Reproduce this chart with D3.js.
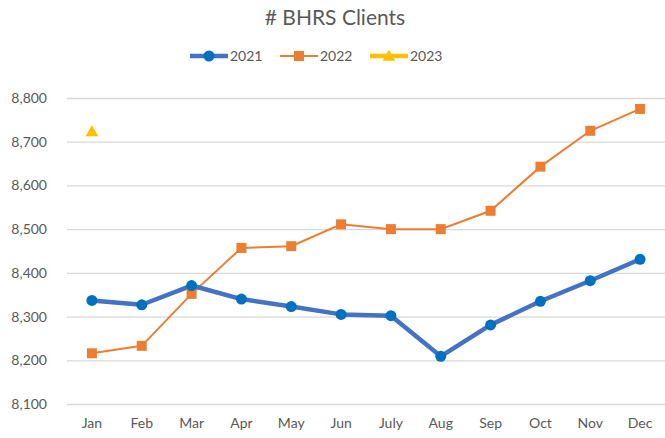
<!DOCTYPE html>
<html>
<head>
<meta charset="utf-8">
<script src="https://cdn.jsdelivr.net/npm/d3@7"></script>
<style>
  body { margin: 0; background: #fff; }
  text { font-family: Lato, "Open Sans", sans-serif; fill: #595959; }
</style>
</head>
<body>
<script>
// donnees
var months = ["Jan","Feb","Mar","Apr","May","Jun","July","Aug","Sep","Oct","Nov","Dec"];
var y2021 = [8337,8327,8371,8340,8323,8305,8302,8209,8281,8335,8382,8431];
var y2022 = [8216,8233,8352,8457,8461,8511,8500,8500,8542,8643,8725,8775];
var y2023 = [8723];
var yTicks = [8100,8200,8300,8400,8500,8600,8700,8800];

var W = 665, H = 438;
var margin = {top: 98, bottom: 34, left: 67, right: 0};

var svg = d3.select("body").append("svg")
    .attr("width", W)
    .attr("height", H);

// echelles
var x = d3.scaleBand().domain(months).range([margin.left, W - margin.right]);
var y = d3.scaleLinear().domain([8100, 8800]).range([H - margin.bottom, margin.top]);
var cx = function(i) { return x(months[i]) + x.bandwidth() / 2; };

// titre
svg.append("text")
    .attr("x", 335).attr("y", 25)
    .attr("text-anchor", "middle")
    .style("font-size", "21px")
    .text("# BHRS Clients");

// grille + axe y
var yAxis = svg.append("g")
    .attr("transform", "translate(" + margin.left + ",0)")
    .call(d3.axisLeft(y).tickValues(yTicks).tickFormat(d3.format(",")).tickSize(-(W - margin.left - margin.right)).tickPadding(20));
yAxis.select(".domain").remove();
yAxis.selectAll("line").attr("stroke", "#d9d9d9").attr("stroke-width", 1.3);
yAxis.selectAll("text").style("font-size", "14px").attr("fill", "#595959");

// axe x
var xAxis = svg.append("g")
    .attr("transform", "translate(0," + (H - margin.bottom) + ")")
    .call(d3.axisBottom(x).tickSize(0).tickPadding(14));
xAxis.select(".domain").remove();
xAxis.selectAll("text").style("font-size", "14px").attr("fill", "#595959");

// courbes
var line = d3.line()
    .x(function(d, i) { return cx(i); })
    .y(function(d) { return y(d); });

svg.append("path").datum(y2022)
    .attr("fill", "none").attr("stroke", "#ED7D31").attr("stroke-width", 2)
    .attr("d", line);

svg.append("path").datum(y2021)
    .attr("fill", "none").attr("stroke", "#4472C4").attr("stroke-width", 4.5)
    .attr("stroke-linejoin", "round")
    .attr("d", line);

svg.selectAll(".m22").data(y2022).enter().append("rect")
    .attr("x", function(d, i) { return cx(i) - 5; })
    .attr("y", function(d) { return y(d) - 5; })
    .attr("width", 10).attr("height", 10)
    .attr("fill", "#ED7D31");

svg.selectAll(".m21").data(y2021).enter().append("circle")
    .attr("cx", function(d, i) { return cx(i); })
    .attr("cy", function(d) { return y(d); })
    .attr("r", 5.5)
    .attr("fill", "#0070C0");

var tri = d3.symbol().type(d3.symbolTriangle).size(70);
svg.selectAll(".m23").data(y2023).enter().append("path")
    .attr("d", tri)
    .attr("transform", function(d, i) { return "translate(" + cx(i) + "," + (y(d) + 1) + ")"; })
    .attr("fill", "#FFC000");

// legende
var leg = [
  {name: "2021", x: 190, color: "#4472C4", mk: "#0070C0", w: 4.5, type: "circle"},
  {name: "2022", x: 280, color: "#ED7D31", mk: "#ED7D31", w: 2, type: "square"},
  {name: "2023", x: 370, color: "#FFC000", mk: "#FFC000", w: 4.5, type: "triangle"}
];
var lg = svg.selectAll(".leg").data(leg).enter().append("g")
    .attr("transform", function(d) { return "translate(" + d.x + ",56)"; });
lg.append("line")
    .attr("x1", 0).attr("x2", 38).attr("y1", 0).attr("y2", 0)
    .attr("stroke", function(d) { return d.color; })
    .attr("stroke-width", function(d) { return d.w; });
lg.append("path")
    .attr("transform", function(d) { return "translate(19," + (d.type == "triangle" ? 1 : 0) + ")"; })
    .attr("d", function(d) {
      if (d.type == "circle") return d3.symbol().type(d3.symbolCircle).size(95)();
      if (d.type == "square") return d3.symbol().type(d3.symbolSquare).size(100)();
      return d3.symbol().type(d3.symbolTriangle).size(70)();
    })
    .attr("fill", function(d) { return d.mk; });
lg.append("text")
    .attr("x", 40).attr("y", 5)
    .style("font-size", "14px")
    .text(function(d) { return d.name; });
</script>
</body>
</html>
